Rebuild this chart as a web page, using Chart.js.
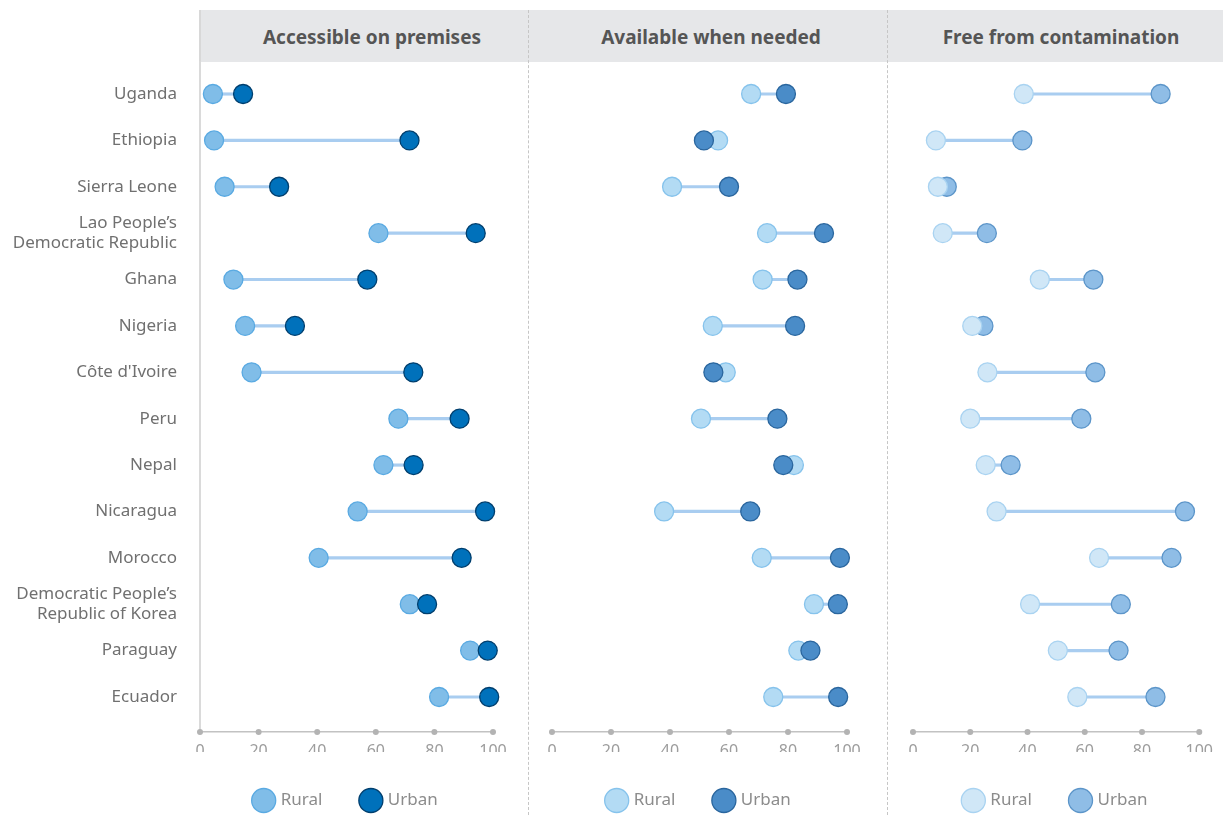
<!DOCTYPE html>
<html>
<head>
<meta charset="utf-8">
<title>Drinking water services by area</title>
<script src="https://cdn.jsdelivr.net/npm/chart.js@4.4.1/dist/chart.umd.min.js"></script>
<style>
    body { margin: 0; width: 1223px; height: 815px; position: relative; background: #fff; overflow: hidden; font-family: "Noto Sans", sans-serif; }
    .header { position: absolute; left: 199px; top: 10px; width: 1022px; height: 52px; background: #e6e7e9; border-left: 2px solid #d8d8d8; }
    .title { position: absolute; top: 11px; height: 52px; line-height: 52px; font-size: 19px; font-weight: 700; color: #555; text-align: center; }
    .sep { position: absolute; top: 10px; height: 805px; width: 0; border-left: 1px dashed #c6c6c6; }
    canvas { position: absolute; top: 0; }
</style>
</head>
<body>
<div class="header"></div>
<div class="title" style="left:200px;width:344px">Accessible on premises</div>
<div class="title" style="left:528px;width:366px">Available when needed</div>
<div class="title" style="left:887px;width:348px">Free from contamination</div>
<div class="sep" style="left:528px"></div>
<div class="sep" style="left:887px"></div>
<canvas id="chart-access" width="528" height="815" style="left:0"></canvas>
<canvas id="chart-available" width="359" height="815" style="left:528px"></canvas>
<canvas id="chart-free" width="336" height="815" style="left:887px"></canvas>

<script>
const countries = [
    'Uganda', 'Ethiopia', 'Sierra Leone', ['Lao People’s', 'Democratic Republic'], 'Ghana',
    'Nigeria', "Côte d'Ivoire", 'Peru', 'Nepal', 'Nicaragua', 'Morocco',
    ['Democratic People’s', 'Republic of Korea'], 'Paraguay', 'Ecuador'
];

// values, % of population
const accessRural = [4.4, 4.8, 8.4, 60.9, 11.4, 15.4, 17.6, 67.7, 62.6, 53.8, 40.5, 71.6, 92.2, 81.6];
const accessUrban = [14.7, 71.5, 27, 94.1, 57.1, 32.4, 72.8, 88.6, 72.9, 97.3, 89.3, 77.5, 98.2, 98.7];

const availableRural = [67.5, 56.3, 40.7, 72.9, 71.4, 54.5, 58.9, 50.5, 82, 38, 71.1, 88.8, 83.5, 75];
const availableUrban = [79.3, 51.5, 60, 92.2, 83.2, 82.4, 54.7, 76.4, 78.4, 67.2, 97.6, 96.9, 87.6, 97];

const freeRural = [38.7, 8, 8.7, 10.4, 44.3, 20.7, 26, 20, 25.4, 29.2, 65, 40.9, 50.6, 57.4];
const freeUrban = [86.5, 38.2, 11.8, 25.8, 63, 24.6, 63.7, 58.8, 34.1, 95, 90.3, 72.6, 71.8, 84.7];

const xTicks = [0, 20, 40, 60, 80, 100];

Chart.defaults.font.family = '"Noto Sans", sans-serif';

// small grey dots on the x axis at each tick
const tickDots = {
    id: 'tickDots',
    afterDraw(chart) {
        const xs = chart.scales.x;
        const ctx = chart.ctx;
        ctx.save();
        ctx.fillStyle = '#b3b3b3';
        xs.ticks.forEach(t => {
            ctx.beginPath();
            ctx.arc(xs.getPixelForValue(t.value), xs.top, 3, 0, Math.PI * 2);
            ctx.fill();
        });
        ctx.restore();
    }
};

function makePanel(canvasId, rural, urban, colors, opts) {
    const ctx = document.getElementById(canvasId).getContext('2d');
    const ruralOnTop = opts.ruralOnTop;

    return new Chart(ctx, {
        type: 'scatter',
        data: {
            datasets: [{
                type: 'bar',
                label: 'gap',
                indexAxis: 'y',
                data: countries.map((c, i) => ({ x: [rural[i], urban[i]], y: i })),
                backgroundColor: '#a9cdf0',
                borderWidth: 0,
                barThickness: 2.5,
                order: 3
            }, {
                label: 'Rural',
                data: countries.map((c, i) => ({ x: rural[i], y: i })),
                backgroundColor: colors.ruralFill,
                borderColor: colors.ruralLine,
                borderWidth: 1.3,
                pointRadius: 9.5,
                pointHoverRadius: 9.5,
                order: ruralOnTop ? 1 : 2
            }, {
                label: 'Urban',
                data: countries.map((c, i) => ({ x: urban[i], y: i })),
                backgroundColor: colors.urbanFill,
                borderColor: colors.urbanLine,
                borderWidth: 1.3,
                pointRadius: 9.5,
                pointHoverRadius: 9.5,
                order: ruralOnTop ? 2 : 1
            }]
        },
        options: {
            responsive: false,
            animation: false,
            devicePixelRatio: 1,
            clip: false,
            events: [],
            layout: {
                padding: { top: 62, left: opts.padLeft, right: opts.padRight, bottom: -4 }
            },
            scales: {
                x: {
                    type: 'linear',
                    bounds: 'data',
                    offset: false,
                    min: 0,
                    max: 100,
                    afterBuildTicks: s => { s.ticks = xTicks.map(v => ({ value: v })); },
                    grid: { display: false, drawTicks: false },
                    border: { display: true, color: '#c2c2c2', width: 1.5 },
                    ticks: { color: '#9d9d9d', font: { size: 16 }, padding: 10 },
                    afterFit: s => { s.height = 20; }
                },
                y: {
                    type: 'linear',
                    bounds: 'data',
                    offset: false,
                    reverse: true,
                    min: -0.69,
                    max: 13.755,
                    display: opts.showLabels,
                    afterBuildTicks: s => { s.ticks = countries.map((c, i) => ({ value: i })); },
                    grid: { display: false, drawTicks: false },
                    border: { display: true, color: '#dadada', width: 2 },
                    ticks: {
                        color: '#707070',
                        font: { size: 17 },
                        padding: 23,
                        callback: v => countries[v]
                    },
                    afterFit: s => { if (opts.showLabels) s.width = 200; }
                }
            },
            plugins: {
                tooltip: { enabled: false },
                legend: {
                    position: 'bottom',
                    fullSize: false,
                    labels: {
                        usePointStyle: true,
                        pointStyle: 'circle',
                        color: '#8c8c8c',
                        font: { size: 17 },
                        padding: 40,
                        filter: item => item.datasetIndex > 0,
                        sort: (a, b) => a.datasetIndex - b.datasetIndex
                    }
                }
            }
        },
        plugins: [tickDots]
    });
}

makePanel('chart-access', accessRural, accessUrban, {
    ruralFill: '#80bde8', ruralLine: '#5aaae2',
    urbanFill: '#0071bb', urbanLine: '#003f6e'
}, { showLabels: true, ruralOnTop: false, padLeft: 0, padRight: 35 });

makePanel('chart-available', availableRural, availableUrban, {
    ruralFill: '#b3dbf4', ruralLine: '#86c3ec',
    urbanFill: '#4a8cc8', urbanLine: '#2a669e'
}, { showLabels: false, ruralOnTop: false, padLeft: 24, padRight: 40 });

makePanel('chart-free', freeRural, freeUrban, {
    ruralFill: '#d0e7f7', ruralLine: '#a9d3f1',
    urbanFill: '#8fbde6', urbanLine: '#5c95c9'
}, { showLabels: false, ruralOnTop: true, padLeft: 26, padRight: 16 });
</script>
</body>
</html>
